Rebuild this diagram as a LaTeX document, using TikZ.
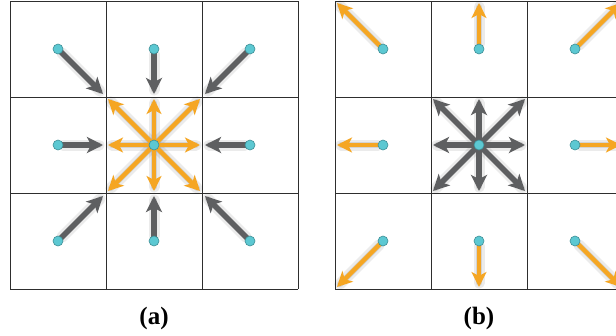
\documentclass[tikz,border=0pt]{standalone}
\usepackage{fontspec}
\setmainfont{Liberation Serif}
\usetikzlibrary{arrows.meta,calc}
\definecolor{orangeA}{HTML}{F5A623}
\definecolor{grayA}{HTML}{5E5F61}
\definecolor{dotfill}{HTML}{5CC8D2}
\definecolor{dotline}{HTML}{3E8E95}
\definecolor{gridc}{HTML}{2E2E2E}
\tikzset{
  gridline/.style={draw=gridc, line width=0.9pt},
  dot/.style={circle, fill=dotfill, draw=dotline, line width=0.6pt, minimum size=10pt, inner sep=0pt},
  shadowA/.style={draw=black, opacity=0.08, line width=11pt, line cap=round},
  shadowB/.style={draw=black, opacity=0.10, line width=6pt, line cap=round},
  garrow/.style={draw=grayA, fill=grayA, line width=5.5pt, -{Stealth[length=16pt,width=16pt,inset=4pt]}},
  oarrow/.style={draw=orangeA, fill=orangeA, line width=4.5pt, -{Stealth[length=15pt,width=15pt,inset=4pt]}},
  caption/.style={font=\fontsize{25}{30}\selectfont\bfseries, inner sep=0pt}
}
\begin{document}
\begin{tikzpicture}[x=1pt,y=-1pt]
\useasboundingbox (0,0) rectangle (616,335);
\fill[white] (0,0) rectangle (616,335);
\clip (0,0) rectangle (616,335);
% grids
\foreach \k in {0,1,2,3} {
  \draw[gridline] (10+96*\k,1) -- (10+96*\k,289);
  \draw[gridline] (10,1+96*\k) -- (298,1+96*\k);
  \draw[gridline] (335+96*\k,1) -- (335+96*\k,289);
  \draw[gridline] (335,1+96*\k) -- (631,1+96*\k);
}
% dots positions
\foreach \i in {0,1,2} {
  \foreach \j in {0,1,2} {
    \coordinate (pa\i\j) at (58+96*\i,49+96*\j);
    \coordinate (pb\i\j) at (383+96*\i,49+96*\j);
  }
}
\foreach \i/\j in {0/0,1/0,2/0,0/1,2/1,0/2,1/2,2/2} {
  \pgfmathtruncatemacro{\dx}{1-\i}
  \pgfmathtruncatemacro{\dy}{1-\j}
  \coordinate (ta\i\j) at ($(pa\i\j)+(45*\dx,45*\dy)$);
  \coordinate (oa\i\j) at ($(pa11)+(-46*\dx,-46*\dy)$);
  \coordinate (tb\i\j) at ($(pb\i\j)+(-46*\dx,-46*\dy)$);
  \coordinate (gb\i\j) at ($(pb11)+(-46*\dx,-46*\dy)$);
}
% shadows
\begin{scope}[shift={(4,4)}]
\foreach \i/\j in {0/0,1/0,2/0,0/1,2/1,0/2,1/2,2/2} {
  \draw[shadowA, shorten <=5pt, shorten >=4pt] (pa\i\j) -- (ta\i\j);
  \draw[shadowB, shorten <=5pt, shorten >=4pt] (pa\i\j) -- (ta\i\j);
  \draw[shadowA, shorten <=5pt, shorten >=4pt] (pa11) -- (oa\i\j);
  \draw[shadowB, shorten <=5pt, shorten >=4pt] (pa11) -- (oa\i\j);
  \draw[shadowA, shorten <=5pt, shorten >=4pt] (pb\i\j) -- (tb\i\j);
  \draw[shadowB, shorten <=5pt, shorten >=4pt] (pb\i\j) -- (tb\i\j);
  \draw[shadowA, shorten <=5pt, shorten >=4pt] (pb11) -- (gb\i\j);
  \draw[shadowB, shorten <=5pt, shorten >=4pt] (pb11) -- (gb\i\j);
}
\end{scope}
% arrows
\foreach \i/\j in {0/0,1/0,2/0,0/1,2/1,0/2,1/2,2/2} {
  \draw[garrow, shorten <=4pt] (pa\i\j) -- (ta\i\j);
  \draw[oarrow] (pa11) -- (oa\i\j);
  \draw[oarrow, shorten <=4pt] (pb\i\j) -- (tb\i\j);
  \draw[garrow] (pb11) -- (gb\i\j);
}
% dots
\foreach \i in {0,1,2} {
  \foreach \j in {0,1,2} {
    \node[dot] (a\i\j) at (pa\i\j) {};
    \node[dot] (b\i\j) at (pb\i\j) {};
  }
}
\node[caption] (capa) at (154,318) {(a)};
\node[caption] (capb) at (479,318) {(b)};
\end{tikzpicture}
\end{document}
